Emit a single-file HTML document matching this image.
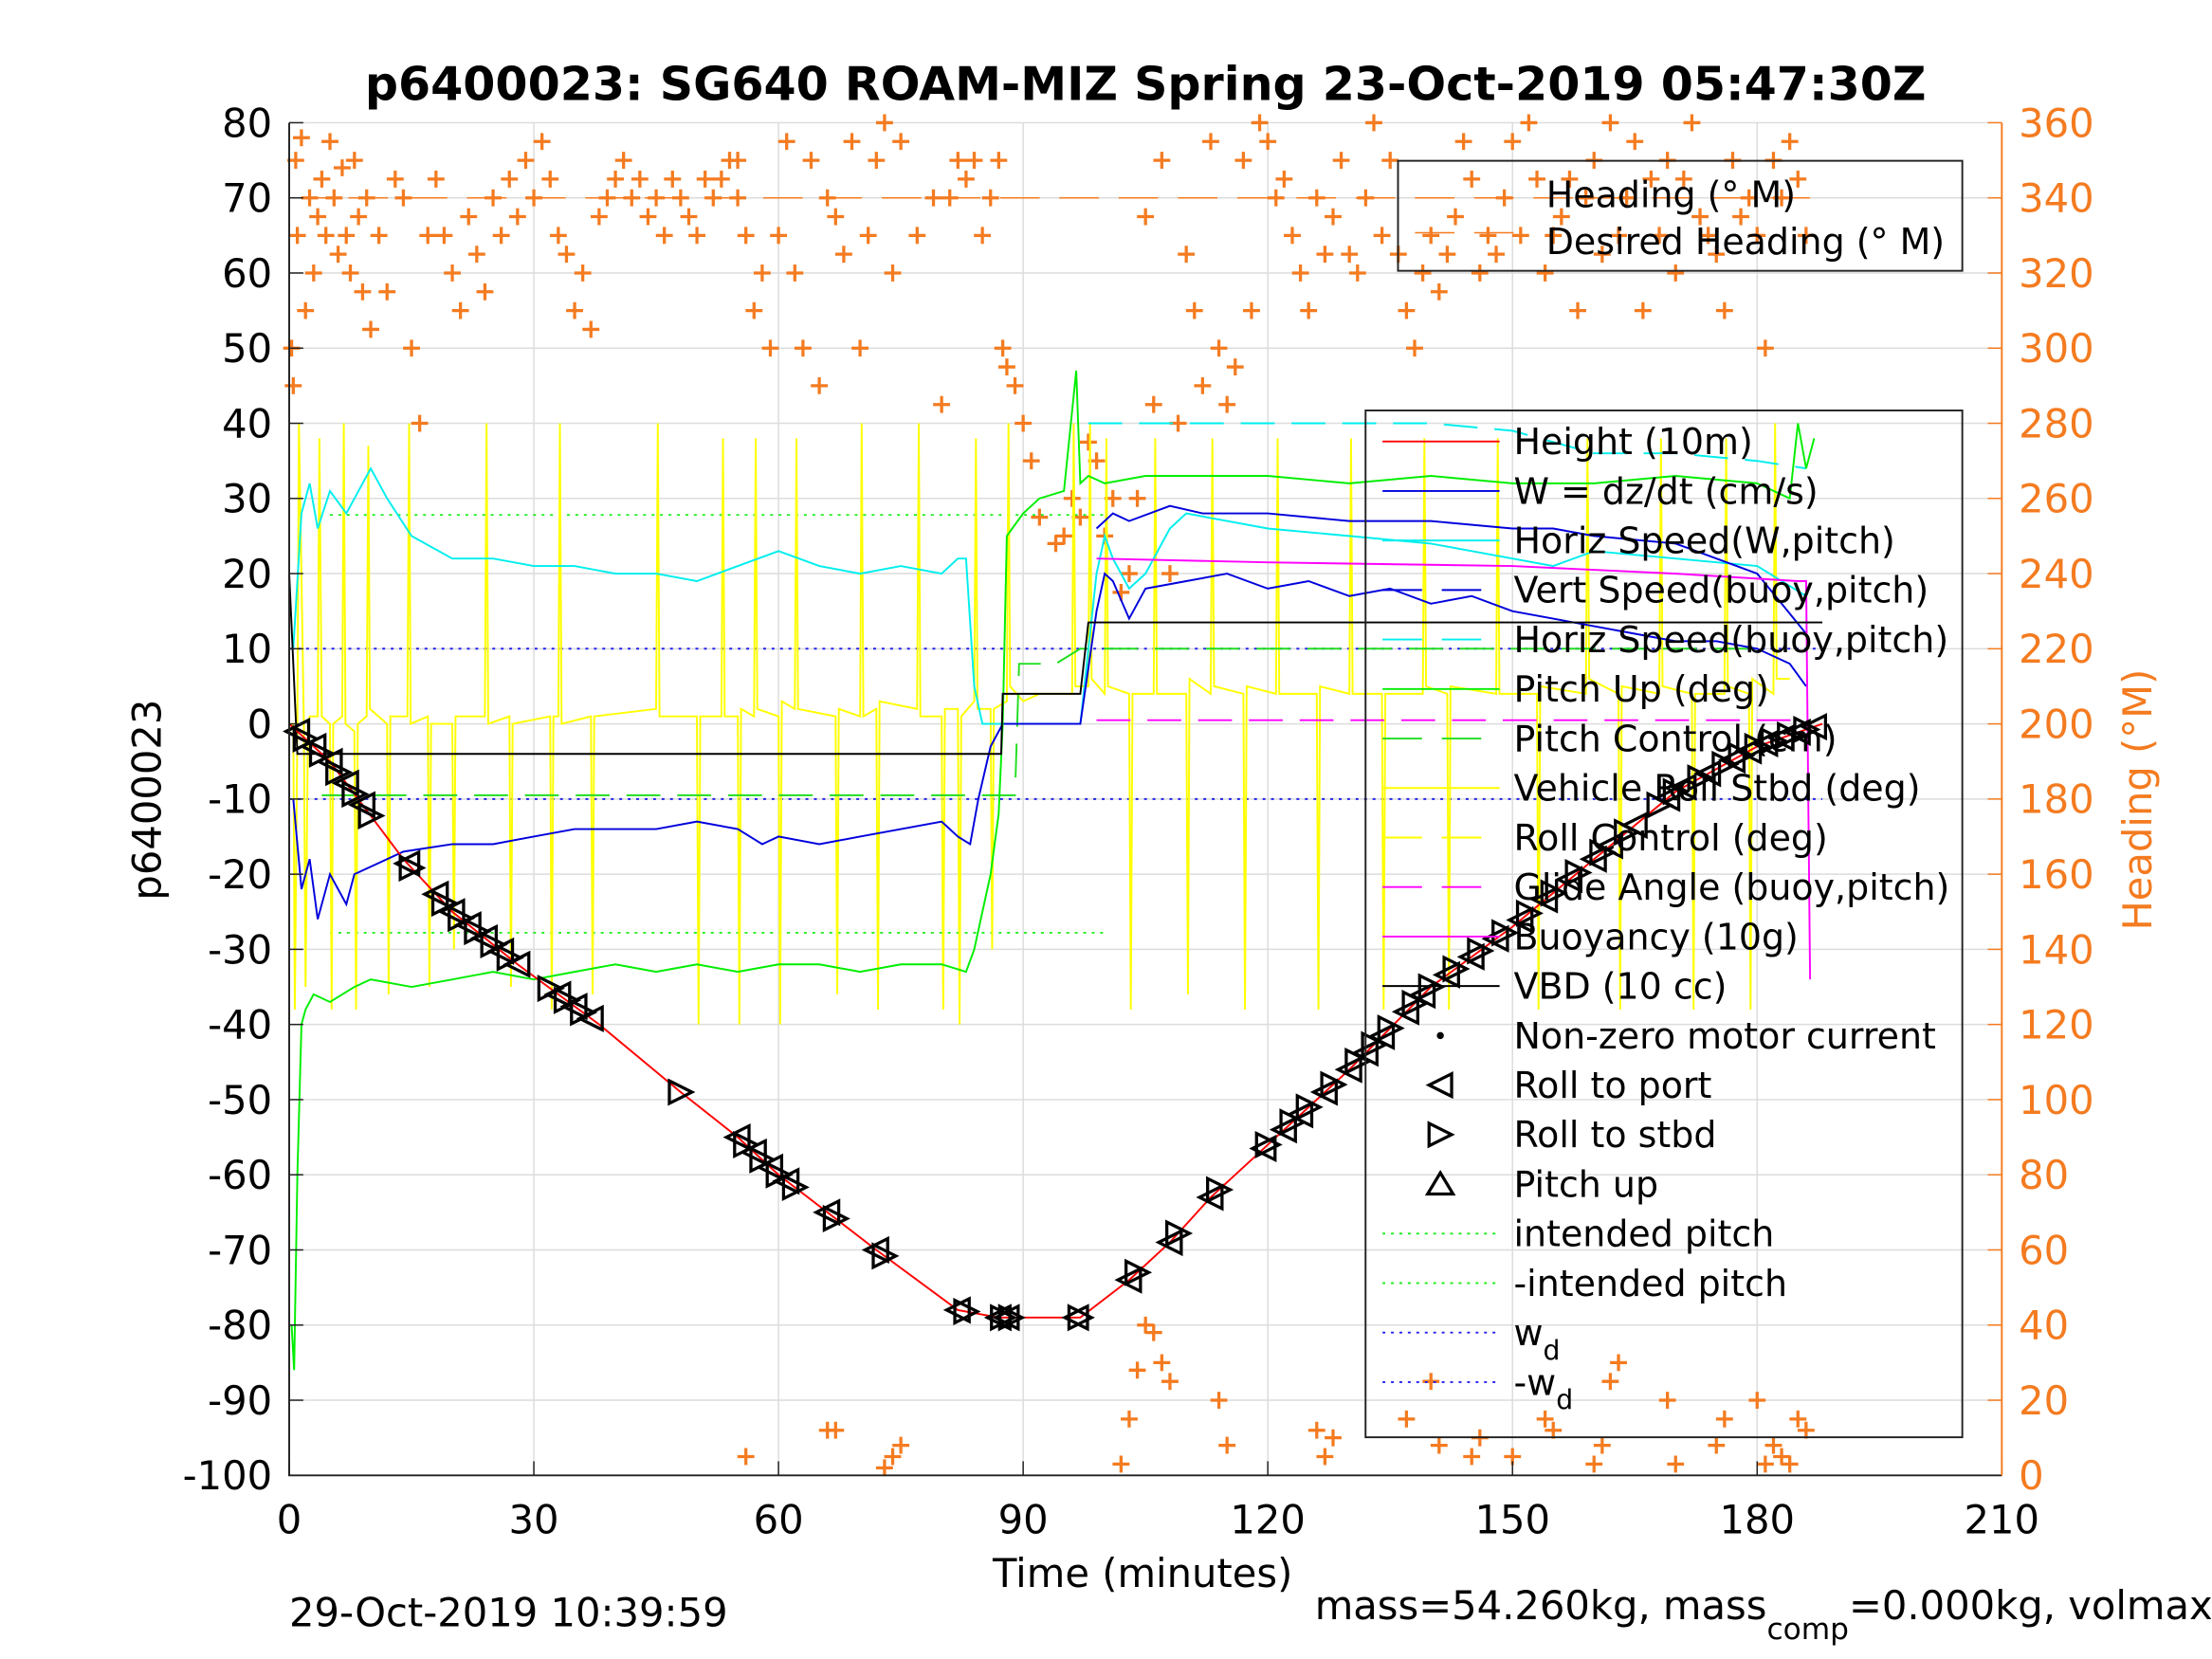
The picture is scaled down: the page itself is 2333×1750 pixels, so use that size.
<!DOCTYPE html>
<html><head><meta charset="utf-8"><style>
html,body{margin:0;padding:0;background:#fff}
svg{display:block}
text{font-family:"DejaVu Sans","Liberation Sans",sans-serif}
</style></head><body>
<svg id="chart" width="2333" height="1750" viewBox="0 0 1568 1176.2" preserveAspectRatio="none" xmlns="http://www.w3.org/2000/svg">
<rect width="1568" height="1177" fill="#fff"/>
<g id="grid"></g>
<g id="plot"></g>
<g id="axes"></g>
<text x="812" y="71" text-anchor="middle" font-size="33" font-weight="bold">p6400023: SG640 ROAM-MIZ Spring 23-Oct-2019 05:47:30Z</text>
<text transform="translate(114,567) rotate(-90)" text-anchor="middle" font-size="28">p6400023</text>
<text transform="translate(1525,567) rotate(-90)" text-anchor="middle" font-size="28" fill="#f47b20">Heading (°M)</text>
<text x="810" y="1125" text-anchor="middle" font-size="28">Time (minutes)</text>
<text x="205" y="1153" font-size="28">29-Oct-2019 10:39:59</text>
<text x="932" y="1148" font-size="28">mass=54.260kg, mass<tspan font-size="21" dy="14">comp</tspan><tspan dy="-14">=0.000kg, volmax</tspan></text>
<g id="legend"></g>
</svg>
<script>
const NS="http://www.w3.org/2000/svg";
const X0=205,X1=1419,YT=87,YB=1046;
const xs=t=>X0+(t/210)*(X1-X0);
const yl=v=>YB-((v+100)/180)*(YB-YT);
const yr=v=>YB-(v/360)*(YB-YT);
const xTicks=[0,30,60,90,120,150,180,210];
const yTicks=[-100,-90,-80,-70,-60,-50,-40,-30,-20,-10,0,10,20,30,40,50,60,70,80];
const y2Ticks=[0,20,40,60,80,100,120,140,160,180,200,220,240,260,280,300,320,340,360];

const heightT=[0,5,14,20,28,38,48,55,60,66,72,82,87,97,103,108,113,120,130,140,150,160,170,180,188];
const heightV=[0,-5,-18,-25,-32,-40,-49,-55,-60,-65,-70,-78,-79,-79,-74,-69,-63,-56,-46,-35,-27,-18,-9,-3,0];
const wT=[0.5,1.5,2.5,3.5,5,7,8,10,14,20,25,30,35,40,45,50,55,58,60,65,70,75,80,82,83.5,84.5,86,87.5,90,97,99,100,101,103,105,110,115,120,125,130,135,140,145,150,155,160,165,170,175,180,184,186];
const wV=[-10,-22,-18,-26,-20,-24,-20,-19,-17,-16,-16,-15,-14,-14,-14,-13,-14,-16,-15,-16,-15,-14,-13,-15,-16,-10,-3,0,0,0,15,20,19,14,18,19,20,18,19,17,18,16,17,15,14,13,12,11,11,10,8,5];
const vbT=[99,101,103,108,112,120,130,140,150,155,160,170,175,180,186];
const vbV=[26,28,27,29,28,28,27,27,26,26,25,24,22,20,12];
const hsT=[0.5,1.5,2.5,3.5,5,7,10,12,15,20,25,30,35,40,45,50,55,60,65,70,75,80,82,83,84,85,87,97,99,100,101,103,105,108,110,115,120,130,140,145,150,155,160,170,180,186];
const hsV=[10,28,32,26,31,28,34,30,25,22,22,21,21,20,20,19,21,23,21,20,21,20,22,22,5,0,0,0,20,25,22,18,20,26,28,27,26,25,24,23,22,21,23,22,21,17];
const hbT=[98,100,110,120,130,140,150,160,170,180,186];
const hbV=[40,40,40,40,40,40,39,36,36,35,34];
const pitchT=[0.3,0.6,1,1.5,2,3,5,8,10,15,20,25,30,35,40,45,50,55,60,65,70,75,80,83,84,85,86,87,87.5,88,90,92,95,96.5,97,98,100,105,110,120,130,140,150,160,170,180,184,185,186,187];
const pitchV=[-80,-86,-60,-40,-38,-36,-37,-35,-34,-35,-34,-33,-34,-33,-32,-33,-32,-33,-32,-32,-33,-32,-32,-33,-30,-25,-20,-12,0,25,28,30,31,47,32,33,32,33,33,33,32,33,32,32,33,32,30,40,34,38];
const pcT=[4,89,89.5,94,97,180];
const pcV=[-9.5,-9.5,8,8,10,10];
const rollT=[0,0.5,0.7,1,1.2,1.8,2,2.3,2.5,3.5,3.7,4,5,5.2,5.4,6.5,6.7,6.9,8,8.2,8.4,9.5,9.7,9.9,12,12.2,12.4,14.5,14.7,14.9,17,17.2,17.4,20,20.2,20.4,24,24.2,24.4,27,27.2,27.4,32,32.2,32.4,33,33.2,33.4,37,37.2,37.4,45,45.2,45.4,50,50.2,50.4,53,53.2,53.4,55,55.2,55.4,57,57.2,57.4,60,60.2,60.4,62,62.2,62.4,67,67.2,67.4,70,70.2,70.4,72,72.2,72.4,77,77.2,77.4,80,80.2,80.4,82,82.2,82.4,84,84.2,84.4,86,86.2,86.4,88,88.2,88.4,90,92,96,96.2,96.4,98,98.2,98.4,100,100.2,100.4,103,103.2,103.4,106,106.2,106.4,110,110.2,110.4,113,113.2,113.4,117,117.2,117.4,121,121.2,121.4,126,126.2,126.4,130,130.2,130.4,134,134.2,134.4,139,139.2,139.4,142,142.2,142.4,148,148.2,148.4,153,153.2,153.4,159,159.2,159.4,163,163.2,163.4,168,168.2,168.4,172,172.2,172.4,176,176.2,176.4,179,179.2,179.4,182,182.2,182.4,184,184.2,184.4,185.5,185.7,185.9,187];
const rollV=[0,0,-38,0,40,0,-35,0,1,1,38,1,0,-38,0,1,40,0,-1,-38,0,1,37,2,0,-36,1,1,40,0,1,-35,0,0,-30,1,1,40,0,1,-35,0,1,-38,1,1,40,0,1,-36,1,2,40,1,1,-40,1,1,38,1,1,-40,2,1,38,2,1,-40,3,2,38,2,1,-36,2,1,40,1,2,-38,3,2,40,1,1,-38,2,2,-40,1,3,38,2,2,-30,2,3,40,5,3,4,4,40,5,5,40,6,4,38,5,4,-38,4,4,38,4,4,-36,6,4,38,5,4,-38,5,4,38,4,4,-38,5,4,38,4,4,-38,4,4,38,5,4,-38,5,4,38,4,4,-38,5,4,38,6,4,-38,5,4,38,5,4,-38,4,4,38,5,4,-38,6,4,40,6,6];
const buoyT=[99,120,150,170,185,186,186.5];
const buoyV=[22,21.5,21,20,19,19,-34];
const vbdT=[0,1,87.3,87.5,97,98,188];
const vbdV=[20,-4,-4,4,4,13.5,13.5];
const markT=[1,2,3,4,5,6,7,8,9,10,14.5,15,18,19,20,21,22,23,24,25,26,27,28,32,33,34,35,36,37,48,55,56,57,58,59,60,61,62,66,67,72,73,82,83,87,87.5,88,88.5,96.5,97,103,104,108,109,113,114,119.5,120,122,123,124,125,127,128,130,131,132,133,134,135,137,138,139,140,142,143,145,146,148,149,151,152,154,155,157,158,160,161,162,164,165,168,169,170,171,173,174,176,177,178,179,180,181,182,183,184,185,186,187];
const headT=[0.3,0.5,0.8,1,1.5,2,2.5,3,3.5,4,4.5,5,5.5,6,6.5,7,7.5,8,8.5,9,9.5,10,11,12,13,14,15,16,17,18,19,20,21,22,23,24,25,26,27,28,29,30,31,32,33,34,35,36,37,38,39,40,41,42,43,44,45,46,47,48,49,50,51,52,53,54,55,56,57,58,59,60,61,62,63,64,65,66,67,68,69,70,71,72,73,74,75,77,79,80,81,82,83,84,85,86,87,87.5,88,89,90,91,92,94,95,96,97,98,99,100,101,102,103,104,105,106,107,108,109,110,111,112,113,114,115,116,117,118,119,120,121,122,123,124,125,126,127,128,129,130,131,132,133,134,135,136,137,138,139,140,141,142,143,144,145,146,147,148,149,150,151,152,153,154,155,156,157,158,159,160,161,162,163,164,165,166,167,168,169,170,171,172,173,174,175,176,177,178,179,180,181,182,183,184,185,186,
55,56,66,67,73,74,75,102,103,104,105,106,107,108,114,115,126,127,128,137,140,141,145,146,150,154,155,160,161,162,163,169,170,175,176,180,181,182,183,184,185,186];
const headV=[300,290,350,330,356,310,340,320,335,345,330,355,340,325,348,330,320,350,335,315,340,305,330,315,345,340,300,280,330,345,330,320,310,335,325,315,340,330,345,335,350,340,355,345,330,325,310,320,305,335,340,345,350,340,345,335,340,330,345,340,335,330,345,340,345,350,340,330,310,320,300,330,355,320,300,350,290,340,335,325,355,300,330,350,360,320,355,330,340,285,340,350,345,350,330,340,350,300,295,290,280,270,255,248,250,260,255,275,270,250,260,235,240,260,335,285,350,240,280,325,310,290,355,300,285,295,350,310,360,355,340,345,330,320,310,340,325,335,350,325,320,340,360,330,350,325,310,300,320,330,315,325,335,355,345,320,330,325,340,355,330,360,345,320,330,335,345,310,340,350,325,360,330,340,355,310,345,330,350,320,345,360,335,330,325,310,350,335,340,330,300,350,340,355,345,330,350,
5,12,12,2,5,8,3,15,28,40,38,30,25,20,8,12,5,10,15,25,8,5,10,5,15,12,3,8,25,30,20,3,8,15,20,3,8,5,3,15,12,8];

function el(tag,attrs,parent){const e=document.createElementNS(NS,tag);for(const k in attrs)e.setAttribute(k,attrs[k]);(parent||plot).appendChild(e);return e;}
const grid=document.getElementById('grid'),plot=document.getElementById('plot'),axes=document.getElementById('axes'),legend=document.getElementById('legend');

xTicks.forEach(t=>{const l=el('line',{x1:xs(t),x2:xs(t),y1:YT,y2:YB,stroke:'#dcdcdc','stroke-width':1},grid);


const tx=el('text',{x:xs(t),y:YB+41,'text-anchor':'middle','font-size':28},axes);tx.textContent=t;


el('line',{x1:xs(t),x2:xs(t),y1:YB,y2:YB-10,stroke:'#222'},axes);});
yTicks.forEach(v=>{const l=el('line',{x1:X0,x2:X1,y1:yl(v),y2:yl(v),stroke:'#dcdcdc','stroke-width':1},grid);


const tx=el('text',{x:X0-12,y:yl(v)+10,'text-anchor':'end','font-size':28},axes);tx.textContent=v;


el('line',{x1:X0,x2:X0+10,y1:yl(v),y2:yl(v),stroke:'#222'},axes);});
y2Ticks.forEach(v=>{const tx=el('text',{x:X1+12,y:yr(v)+10,'font-size':28,fill:'#f47b20'},axes);tx.textContent=v;


el('line',{x1:X1,x2:X1-10,y1:yr(v),y2:yr(v),stroke:'#f47b20'},axes);});
const ax=el('path',{d:`M${X0},${YT}V${YB}H${X1}`,fill:'none',stroke:'#222','stroke-width':1.3},axes);


const ax2=el('line',{x1:X1,x2:X1,y1:YT,y2:YB,stroke:'#f47b20','stroke-width':1.3},axes);



function line(T,V,color,name,w,dash){const d=T.map((t,i)=>(i?'L':'M')+xs(t).toFixed(1)+','+yl(V[i]).toFixed(1)).join('');
const p=el('path',{d,fill:'none',stroke:color,'stroke-width':w||1,'stroke-dasharray':dash||'none'});

return p;}

const dh=el('line',{x1:xs(0),x2:xs(188),y1:yr(340),y2:yr(340),stroke:'#f47b20','stroke-dasharray':'28 14','stroke-width':1});


headT.forEach((t,i)=>{const x=xs(t),y=yr(headV[i]);
const p=el('path',{d:`M${x-6},${y}H${x+6}M${x},${y-6}V${y+6}`,stroke:'#f47b20','stroke-width':2.2});

});
[[27.8,'#22ee22','intended-pitch-line',[5,100]],[-27.8,'#22ee22','neg-intended-pitch-line',[5,100]],[10,'#2222ee','wd-line',[0,188]],[-10,'#2222ee','neg-wd-line',[0,188]]].forEach(r=>{
line(r[3],[r[0],r[0]],r[1],r[2],1.3,'2 4');});
line(rollT,rollV,'#ffff00','vehicle-roll-line',1.3);
line(pcT,pcV,'#22dd22','pitch-control-line',1.3,'24 12');
line(hbT,hbV,'#00eeee','horiz-speed-buoy-line',1.3,'24 12');
line(hsT,hsV,'#00eeee','horiz-speed-line',1.3);
line(vbT,vbV,'#0000dd','vert-speed-buoy-line',1.3);
line(wT,wV,'#0000dd','w-line',1.3);
line(pitchT,pitchV,'#00ee00','pitch-up-line',1.3);
line([99,185],[0.5,0.5],'#ff00ff','glide-angle-line',1.3,'24 12');
line(buoyT,buoyV,'#ff00ff','buoyancy-line',1.3);
line(vbdT,vbdV,'#000','vbd-line',1.3);
line(heightT,heightV,'#ff0000','height-line',1.3);
function hAt(t){for(let i=1;i<heightT.length;i++){if(t<=heightT[i]){const f=(t-heightT[i-1])/(heightT[i]-heightT[i-1]);return heightV[i-1]+f*(heightV[i]-heightV[i-1]);}}return 0;}
markT.forEach((t,i)=>{const x=xs(t),y=yl(hAt(t));const s=8;
const d=i%2?`M${x-s},${y-s}L${x+s},${y}L${x-s},${y+s}Z`:`M${x+s},${y-s}L${x-s},${y}L${x+s},${y+s}Z`;
const p=el('path',{d,fill:'none',stroke:'#000','stroke-width':2.2});

});

function box(x,y,w,h,name){const r=el('rect',{x,y,width:w,height:h,fill:'none',stroke:'#222','stroke-width':1.3},legend);

}
box(991,114,400,78,'heading-legend-box');
box(968,291,423,728,'series-legend-box');
[['Heading (° M)','none'],['Desired Heading (° M)','#f47b20']].forEach((e,i)=>{const y=138+i*33;
if(e[1]!=='none')el('line',{x1:1003,x2:1086,y1:y-6,y2:y-6,stroke:e[1],'stroke-dasharray':'28 14'},legend);
const tx=el('text',{x:1096,y:y+9,'font-size':25.5},legend);tx.textContent=e[0];

});
const entries=[['Height (10m)','#ff0000',''],['W = dz/dt (cm/s)','#0000dd',''],['Horiz Speed(W,pitch)','#00eeee',''],['Vert Speed(buoy,pitch)','#0000dd','28 14'],['Horiz Speed(buoy,pitch)','#00eeee','28 14'],['Pitch Up (deg)','#00ee00',''],['Pitch Control (cm)','#22dd22','28 14'],['Vehicle Roll Stbd (deg)','#ffff00',''],['Roll Control (deg)','#ffff00','28 14'],['Glide Angle (buoy,pitch)','#ff00ff','28 14'],['Buoyancy (10g)','#ff00ff',''],['VBD (10 cc)','#000',''],['Non-zero motor current','dot',''],['Roll to port','lt',''],['Roll to stbd','rt',''],['Pitch up','up',''],['intended pitch','#22ee22','2 4'],['-intended pitch','#22ee22','2 4'],['w','#2222ee','2 4'],['-w','#2222ee','2 4']];
entries.forEach((e,i)=>{const y=313+i*35.1;const cx=1021;
if(e[1]==='dot')el('circle',{cx,cy:y,r:2.5,fill:'#000'},legend);
else if(e[1]==='lt')el('path',{d:`M${cx+8},${y-8}L${cx-8},${y}L${cx+8},${y+8}Z`,fill:'none',stroke:'#000','stroke-width':2.2},legend);
else if(e[1]==='rt')el('path',{d:`M${cx-8},${y-8}L${cx+8},${y}L${cx-8},${y+8}Z`,fill:'none',stroke:'#000','stroke-width':2.2},legend);
else if(e[1]==='up')el('path',{d:`M${cx-9},${y+7}L${cx},${y-8}L${cx+9},${y+7}Z`,fill:'none',stroke:'#000','stroke-width':2.2},legend);
else el('line',{x1:980,x2:1063,y1:y,y2:y,stroke:e[1],'stroke-width':1.3,'stroke-dasharray':e[2]||'none'},legend);
const tx=el('text',{x:1073,y:y+9,'font-size':25.5},legend);


if(e[0]==='w'||e[0]==='-w'){tx.textContent=e[0];const s=document.createElementNS(NS,'tspan');s.setAttribute('font-size','19');s.setAttribute('dy','10');s.textContent='d';tx.appendChild(s);}
else tx.textContent=e[0];});
</script>
</body></html>
